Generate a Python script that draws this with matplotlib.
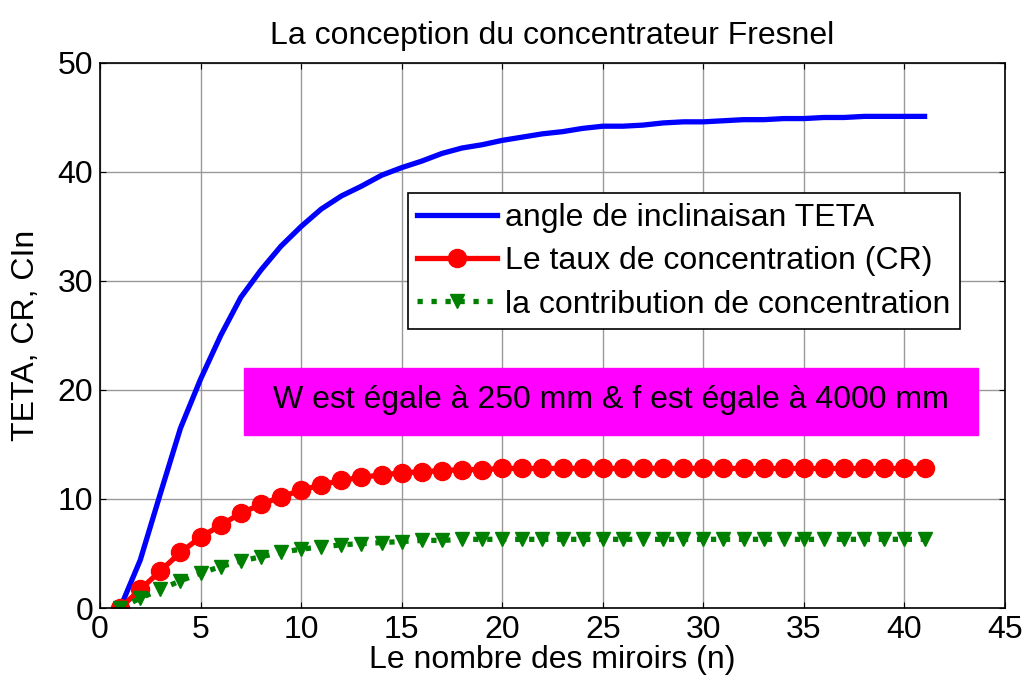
import matplotlib
matplotlib.use('Agg')
import matplotlib.pyplot as plt
from matplotlib.patches import Rectangle

plt.rcParams['font.family'] = ['Liberation Sans', 'DejaVu Sans']

n = list(range(1, 42))
teta = [0, 4.4, 10.5, 16.5, 21.0, 25.0, 28.5, 31.0, 33.2, 35.0,
        36.6, 37.8, 38.7, 39.7, 40.4, 41.0, 41.7, 42.2, 42.5, 42.9,
        43.2, 43.5, 43.7, 44.0, 44.2, 44.2, 44.3, 44.5, 44.6, 44.6,
        44.7, 44.8, 44.8, 44.9, 44.9, 45.0, 45.0, 45.1, 45.1, 45.1, 45.1]
cr = [0, 1.7, 3.4, 5.1, 6.5, 7.6, 8.7, 9.5, 10.2, 10.8,
      11.3, 11.7, 12.0, 12.2, 12.4, 12.5, 12.6, 12.7, 12.7, 12.8,
      12.8, 12.8, 12.8, 12.8, 12.8, 12.8, 12.8, 12.8, 12.8, 12.8,
      12.8, 12.8, 12.8, 12.8, 12.8, 12.8, 12.8, 12.8, 12.8, 12.8, 12.8]
cin = [0, 0.9, 1.7, 2.5, 3.2, 3.8, 4.3, 4.7, 5.1, 5.4,
       5.6, 5.8, 5.9, 6.0, 6.1, 6.2, 6.2, 6.3, 6.3, 6.3,
       6.3, 6.3, 6.3, 6.3, 6.3, 6.3, 6.3, 6.3, 6.3, 6.3,
       6.3, 6.3, 6.3, 6.3, 6.3, 6.3, 6.3, 6.3, 6.3, 6.3, 6.3]

fs = 23

fig = plt.figure(figsize=(10.25, 6.86), dpi=100)
ax = fig.add_axes([0.0976, 0.1137, 0.8829, 0.7945])

ax.plot(n, teta, color='blue', lw=3.8, label='angle de inclinaisan TETA')
ax.plot(n, cr, color='red', lw=3.8, marker='o', ms=13, label='Le taux de concentration (CR)')
ax.plot(n, cin, color='green', lw=3.8, ls=':', marker='v', ms=10, label='la contribution de concentration')

ax.set_xlim(0, 45)
ax.set_ylim(0, 50)
ax.set_xticks(range(0, 46, 5))
ax.set_yticks(range(0, 51, 10))
ax.grid(True, color='#999999', lw=1)
ax.tick_params(direction='in', top=True, right=True, labelsize=fs, length=4, pad=5)
for s in ax.spines.values():
    s.set_linewidth(1.2)

ax.set_title('La conception du concentrateur Fresnel', fontsize=fs, pad=14)
ax.set_xlabel('Le nombre des miroirs (n)', fontsize=fs, labelpad=0)
ax.set_ylabel('TETA, CR, CIn', fontsize=fs, labelpad=12)

leg = ax.legend(loc='upper left', bbox_to_anchor=(0.340, 0.761), fontsize=fs,
                frameon=True, fancybox=False, edgecolor='black', framealpha=1,
                handlelength=2.5, borderpad=0.3, labelspacing=0.42, handletextpad=0.25,
                borderaxespad=0)
leg.get_frame().set_linewidth(1.2)

ax.add_patch(Rectangle((0.159, 0.3174), 0.811, 0.123, transform=ax.transAxes,
                       facecolor='magenta', edgecolor='magenta', zorder=5))
ax.text(0.5646, 0.382, 'W est égale à 250 mm & f est égale à 4000 mm', transform=ax.transAxes,
        fontsize=fs, ha='center', va='center', zorder=6)

fig.savefig('out.png', dpi=100)
